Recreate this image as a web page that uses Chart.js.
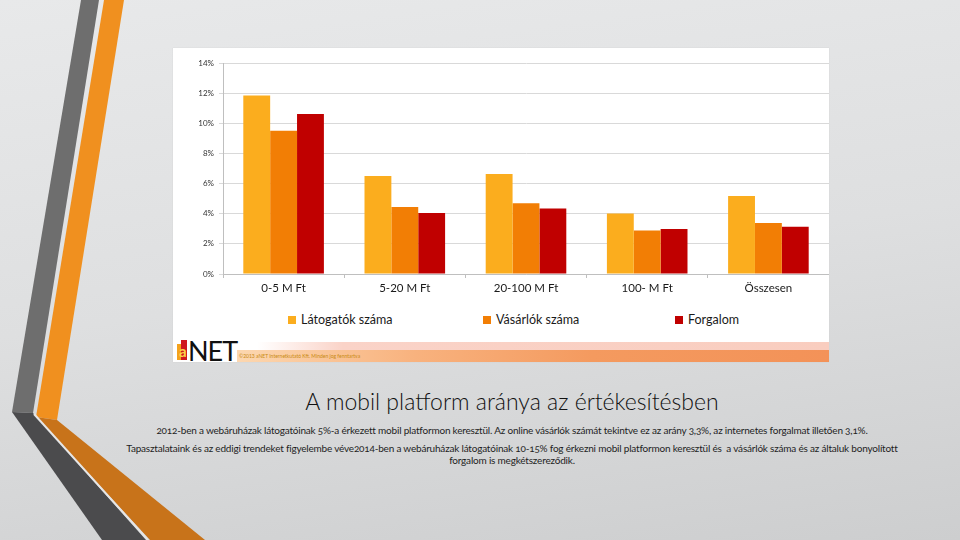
<!DOCTYPE html>
<html><head><meta charset="utf-8">
<script src="https://cdn.jsdelivr.net/npm/chart.js@4/dist/chart.umd.min.js"></script>
<style>
html,body{margin:0;padding:0;width:960px;height:540px;overflow:hidden;}
body{position:relative;background:linear-gradient(172deg,#e8e9ea 0%,#dedfe0 50%,#cdcecf 100%);font-family:Lato,"Open Sans",sans-serif;}
#deco{position:absolute;left:0;top:0;}
#panel{position:absolute;left:173px;top:48px;width:656px;height:314px;background:#fff;box-shadow:0 0 1px #c8c8c8;}
#cv{position:absolute;left:0;top:0;}
.leg{position:absolute;top:265px;font-size:12.5px;color:#1a1a1a;white-space:nowrap;line-height:14px;}
.leg i{display:inline-block;width:8px;height:8px;margin-right:5px;vertical-align:0px;}
#pink{position:absolute;left:84px;top:294px;width:572px;height:8px;background:linear-gradient(to right,rgba(250,205,195,0),#fad3c8 15%,#f9cdbf 100%);}
#orange{position:absolute;left:64px;top:302px;width:592px;height:12px;background:linear-gradient(to right,#fcd7b0,#f8b27e 30%,#f49a5f 60%,#f39258 100%);}
#copy{position:absolute;left:66px;top:305px;font-size:5px;color:#c98a12;white-space:nowrap;}
#net{position:absolute;left:15px;top:289px;font-size:27px;font-weight:400;color:#111;letter-spacing:-1px;line-height:27px;}
.lb{position:absolute;}
#title{position:absolute;left:64px;right:0;top:387px;text-align:center;font-size:23px;font-weight:300;color:#111;}
.p{position:absolute;left:64px;right:0;text-align:center;font-size:10px;letter-spacing:-0.2px;color:#1e1e1e;line-height:11.5px;font-variant-numeric:oldstyle-nums;}
</style></head>
<body>
<svg id="deco" width="960" height="540">
  <polygon points="104,0 124,0 57,420 36,417" fill="#f0901f"/>
  <polygon points="36,417 57,420 205,540 150,540" fill="#c8731a"/>
  <polygon points="81,0 99,0 33,413 12,412" fill="#6e6e6e"/>
  <polygon points="12,412 33,413 146,540 102,540" fill="#4b4b4d"/>
  <line x1="34" y1="414" x2="148" y2="540" stroke="#e6e6e6" stroke-width="2"/>
</svg>
<div id="panel">
  <canvas id="cv" width="656" height="252"></canvas>
  <div id="legend"></div>
  <div id="pink"></div>
  <div id="orange"></div>
  <div id="copy">©2013 aNET Internetkutató Kft. Minden jog fenntartva</div>
  <div class="lb" style="left:4px;top:296px;width:4px;height:16px;background:#f4a21c"></div>
  <div class="lb" style="left:8px;top:292px;width:6px;height:20px;background:#cf1820"></div>
  <div class="lb" style="left:6px;top:296px;font-size:15px;line-height:15px;color:#fbd24a;font-weight:700">a</div>
  <div id="net">NET</div>
</div>
<div id="title">A mobil platform aránya az értékesítésben</div>
<div class="p" style="top:425px">2012-ben a webáruházak látogatóinak 5%-a érkezett mobil platformon keresztül. Az online vásárlók számát tekintve ez az arány 3,3%, az internetes forgalmat illetően 3,1%.</div>
<div class="p" style="top:443px">Tapasztalataink és az eddigi trendeket figyelembe véve2014-ben a webáruházak látogatóinak 10-15% fog érkezni mobil platformon keresztül és &nbsp;a vásárlók száma és az általuk bonyolított<br>forgalom is megkétszereződik.</div>
<script>
const categories = ['0-5 M Ft', '5-20 M Ft', '20-100 M Ft', '100- M Ft', 'Összesen'];
const seriesNames = ['Látogatók száma', 'Vásárlók száma', 'Forgalom'];
const seriesColors = ['#fbad1e', '#f27e05', '#c00000'];
const visitors = [11.85, 6.50, 6.64, 4.02, 5.18];
const buyers = [9.51, 4.45, 4.69, 2.89, 3.38];
const revenue = [10.62, 4.05, 4.35, 2.99, 3.14];
const yTicks = [0, 2, 4, 6, 8, 10, 12, 14];

const seriesValues = [visitors, buyers, revenue];
const legendLeft = [115, 310, 502];
const legend = document.getElementById('legend');
seriesNames.forEach((n, i) => {
  const d = document.createElement('div');
  d.className = 'leg';
  d.style.left = legendLeft[i] + 'px';
  d.innerHTML = '<i style="background:' + seriesColors[i] + '"></i>' + n;
  legend.appendChild(d);
});

new Chart(document.getElementById('cv'), {
  type: 'bar',
  data: {
    labels: categories,
    datasets: seriesNames.map((n, i) => ({
      label: n,
      data: seriesValues[i],
      backgroundColor: seriesColors[i],
      borderWidth: 0,
      barPercentage: 1,
      categoryPercentage: 0.665
    }))
  },
  options: {
    responsive: false,
    animation: false,
    devicePixelRatio: 1,
    layout: { padding: { top: 15, left: 0, right: 0, bottom: 0 } },
    plugins: { legend: { display: false }, tooltip: { enabled: false } },
    scales: {
      x: {
        afterFit: s => { s.height = 26; },
        grid: { offset: true, drawOnChartArea: false, drawTicks: true, tickLength: 4, color: '#bfbfbf' },
        border: { color: '#bfbfbf' },
        ticks: { font: { family: 'Lato', size: 11.5 }, color: '#1a1a1a', padding: 3 }
      },
      y: {
        min: 0, max: 14,
        afterFit: s => { s.width = 50; },
        afterBuildTicks: s => { s.ticks = yTicks.map(v => ({ value: v })); },
        grid: { color: '#d9d9d9', tickLength: 4, lineWidth: 1 },
        border: { color: '#bfbfbf' },
        ticks: { font: { family: 'Lato', size: 8 }, color: '#333', padding: 5, callback: v => v + '%' }
      }
    }
  }
});
</script>
</body></html>
